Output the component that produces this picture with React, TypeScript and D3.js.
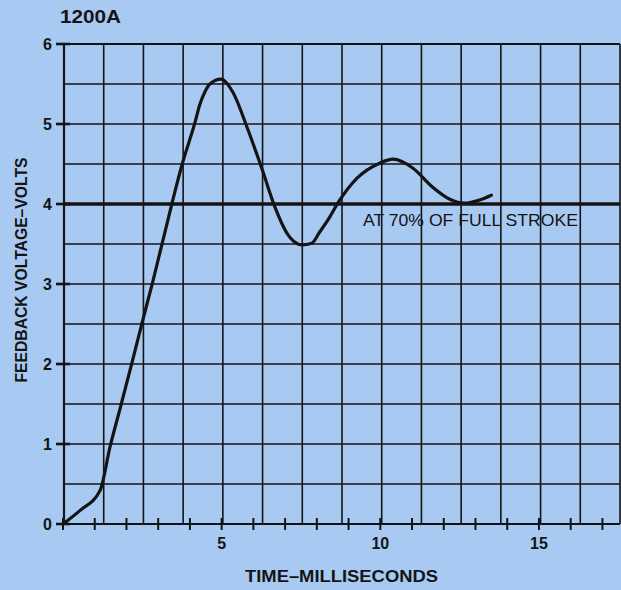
import React from "react";
import * as d3 from "d3";

const timeMs = [0, 0.54, 1.17, 1.48, 1.83, 2.17, 2.49, 2.83, 3.43, 3.75, 4.16, 4.31, 4.47, 4.63, 4.98, 5.35, 5.8, 6.27, 6.68, 7.05, 7.53, 7.84, 8.09, 8.41, 8.66, 9.26, 9.98, 10.4, 11.02, 11.65, 12.19, 12.66, 13.13, 13.5];
const volts = [0, 0.17, 0.42, 0.96, 1.49, 2.01, 2.51, 3.03, 4.0, 4.49, 5.02, 5.24, 5.4, 5.5, 5.56, 5.4, 4.96, 4.44, 3.96, 3.64, 3.49, 3.51, 3.65, 3.84, 4.01, 4.32, 4.51, 4.56, 4.45, 4.21, 4.06, 4.01, 4.05, 4.11];
const yTicks = [0, 1, 2, 3, 4, 5, 6];
const xMinorTicks = [0, 1, 2, 3, 4, 5, 6, 7, 8, 9, 10, 11, 12, 13, 14, 15, 16, 17];
const xLabelTicks = [5, 10, 15];
const referenceVolts = 4;
const referenceLabel = "AT 70% OF FULL STROKE";
const title = "1200A";
const xTitle = "TIME\u2013MILLISECONDS";
const yTitle = "FEEDBACK VOLTAGE\u2013VOLTS";

export default function App() {
  const W = 621, H = 590;
  const left = 64, right = 620, top = 44, bottom = 524;
  const x = d3.scaleLinear().domain([0, 17.5]).range([63, 63 + 17.5 * 31.73]);
  const y = d3.scaleLinear().domain([0, 6]).range([bottom, top]);
  const gx = d3.scaleLinear().domain([0, 14]).range([left, right]);
  const gridCols = d3.range(0, 15);
  const gridRows = d3.range(0, 6.01, 0.5);
  const line = d3.line<number>().x((_, i) => x(timeMs[i])).y((v) => y(v)).curve(d3.curveMonotoneX);
  const font = "'Liberation Sans', Arial, Helvetica, sans-serif";
  const ink = "#141414";
  return (
    <svg width={W} height={H} style={{ position: "absolute", left: 0, top: 0, display: "block" }} fontFamily={font}>
      <rect x={0} y={0} width={W} height={H} fill="#a8caf2" />
      {gridCols.map((c) => (
        <line key={"c" + c} x1={gx(c)} x2={gx(c)} y1={top} y2={bottom} stroke={ink} strokeWidth={1.6} />
      ))}
      {gridRows.map((r) => (
        <line key={"r" + r} x1={left} x2={right} y1={y(r)} y2={y(r)} stroke={ink} strokeWidth={1.6} />
      ))}
      <line x1={left} x2={right} y1={bottom} y2={bottom} stroke={ink} strokeWidth={2.2} />
      <line x1={left} x2={left} y1={top} y2={bottom} stroke={ink} strokeWidth={2.2} />
      <line x1={left} x2={right} y1={top} y2={top} stroke={ink} strokeWidth={2} />
      {xMinorTicks.map((t) => (
        <line key={"xt" + t} x1={x(t)} x2={x(t)} y1={bottom - 6} y2={bottom + 6} stroke={ink} strokeWidth={2} />
      ))}
      {xLabelTicks.map((t) => (
        <text key={"xl" + t} x={x(t)} y={549} textAnchor="middle" fontSize={16} fontWeight="bold" fill={ink}>{t}</text>
      ))}
      {yTicks.map((v) => (
        <g key={"yt" + v}>
          <line x1={56} x2={70} y1={y(v)} y2={y(v)} stroke={ink} strokeWidth={2.6} />
          <text x={52} y={y(v) + 6} textAnchor="end" fontSize={16} fontWeight="bold" fill={ink}>{v}</text>
        </g>
      ))}
      <line x1={left} x2={right} y1={y(referenceVolts)} y2={y(referenceVolts)} stroke={ink} strokeWidth={3.4} />
      <text x={363} y={226} fontSize={17} fill={ink} textLength={215} lengthAdjust="spacingAndGlyphs">{referenceLabel}</text>
      <path d={line(volts) || ""} fill="none" stroke={ink} strokeWidth={3.2} strokeLinejoin="round" strokeLinecap="round" />
      <text x={60} y={23} fontSize={18.5} fontWeight="bold" fill={ink} textLength={61} lengthAdjust="spacingAndGlyphs">{title}</text>
      <text x={245} y={582} fontSize={16} fontWeight="bold" fill={ink} textLength={193} lengthAdjust="spacingAndGlyphs">{xTitle}</text>
      <text transform="translate(27,270) rotate(-90)" textAnchor="middle" fontSize={16} fontWeight="bold" fill={ink} textLength={225} lengthAdjust="spacingAndGlyphs">{yTitle}</text>
    </svg>
  );
}
